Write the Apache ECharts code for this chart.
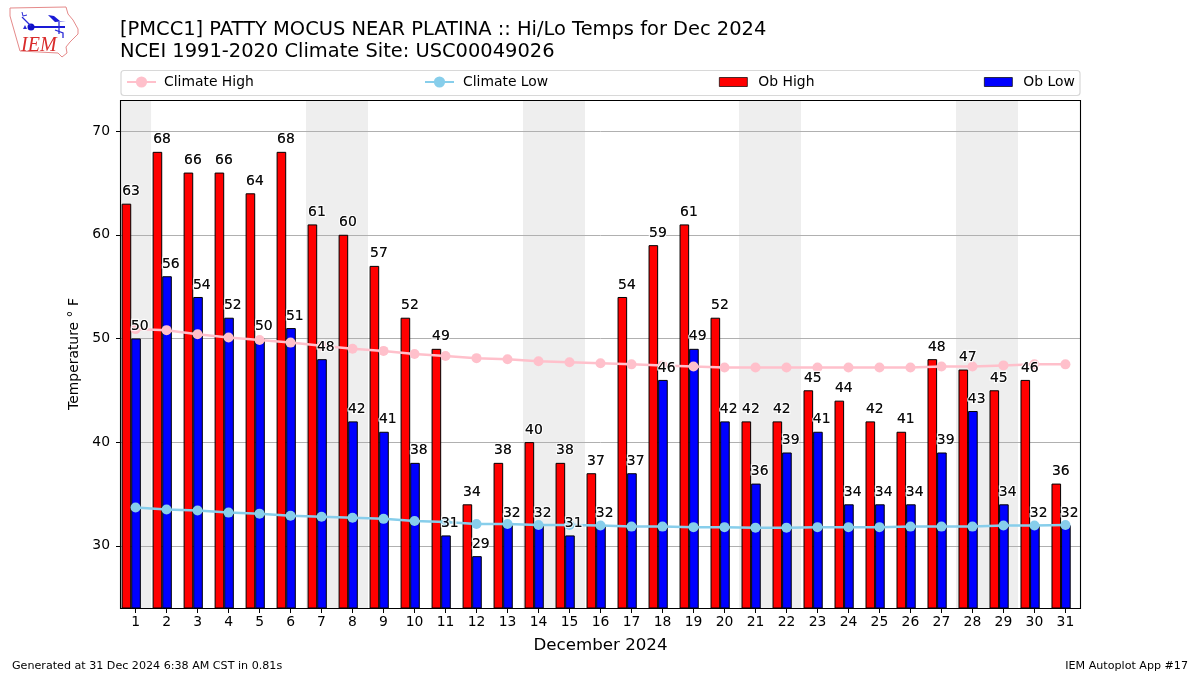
<!DOCTYPE html>
<html><head><meta charset="utf-8">
<style>html,body{margin:0;padding:0;background:#fff}#c{width:1200px;height:675px}</style>
<script src="https://cdn.jsdelivr.net/npm/echarts@6/dist/echarts.min.js"></script>
</head><body><div id="c"></div>
<script>
const days=[1,2,3,4,5,6,7,8,9,10,11,12,13,14,15,16,17,18,19,20,21,22,23,24,25,26,27,28,29,30,31];
const obHigh=[63,68,66,66,64,68,61,60,57,52,49,34,38,40,38,37,54,59,61,52,42,42,45,44,42,41,48,47,45,46,36];
const obLow=[50,56,54,52,50,51,48,42,41,38,31,29,32,32,31,32,37,46,49,42,36,39,41,34,34,34,39,43,34,32,32];
const climateHigh=[50.9,50.8,50.4,50.1,49.85,49.6,49.3,49.0,48.8,48.5,48.3,48.1,48.0,47.8,47.7,47.6,47.5,47.4,47.3,47.2,47.2,47.2,47.2,47.2,47.2,47.2,47.3,47.3,47.4,47.5,47.5];
const climateLow=[33.7,33.5,33.4,33.2,33.1,32.9,32.8,32.7,32.6,32.4,32.3,32.1,32.1,32.0,32.0,31.95,31.85,31.85,31.8,31.8,31.75,31.75,31.8,31.8,31.8,31.85,31.85,31.85,31.95,31.95,32.0];
const yTicks=[30,40,50,60,70];
const weekends=[[0.53,1.5],[6.5,8.5],[13.5,15.5],[20.47,22.47],[27.47,29.47]];
const titleText='[PMCC1] PATTY MOCUS NEAR PLATINA :: Hi/Lo Temps for Dec 2024\nNCEI 1991-2020 Climate Site: USC00049026';
const xTitle='December 2024', yTitle='Temperature ° F';
const footLeft='Generated at 31 Dec 2024 6:38 AM CST in 0.81s', footRight='IEM Autoplot App #17';

const FONT='DejaVu Sans';
const chart=echarts.init(document.getElementById('c'),null,{renderer:'canvas'});
const pair=(vals,shift)=>vals.map((v,i)=>[days[i]+shift,v]);
const GROUP=-0.14;
const valueLabels=(name,vals,dx,halo)=>({
  type:'scatter',name,data:pair(vals,0),symbolSize:1,z:halo?20:21,silent:true,
  itemStyle:{color:'rgba(0,0,0,0)'},
  label:{show:true,position:'top',distance:0,offset:[dx,-4.5],formatter:p=>String(p.value[1]),
    color:'#000',fontFamily:FONT,fontSize:13.9,textBorderColor:halo?'#fff':'transparent',textBorderWidth:halo?2.5:0}
});
const legend=(name,left,h,w,pad,extra)=>Object.assign({show:true,data:[name],left,top:75,itemWidth:w,itemHeight:h,
  textStyle:{fontFamily:FONT,fontSize:13.9,color:'#000',padding:[0,0,0,pad]},padding:0,selectedMode:false},extra||{});
const barIcon={icon:'rect',itemStyle:{borderWidth:0.7}};
chart.setOption({
  animation:false,backgroundColor:'#fff',
  title:[
    {text:titleText,left:120,top:19,padding:0,textStyle:{fontFamily:FONT,fontSize:19.44,fontWeight:'normal',color:'#000',lineHeight:22}},
    {text:footLeft,left:12,top:661,padding:0,textStyle:{fontFamily:FONT,fontSize:11.11,fontWeight:'normal',color:'#000'}},
    {text:footRight,right:12,top:661,padding:0,textStyle:{fontFamily:FONT,fontSize:11.11,fontWeight:'normal',color:'#000'}}
  ],
  legend:[legend('Climate High',126,14,29,3),legend('Climate Low',424,14,29,4),
    legend('Ob High',719,9,28,6,barIcon),legend('Ob Low',984,9,28,6,barIcon)],
  grid:{left:121,top:100,width:959,height:508,show:false,containLabel:false},
  xAxis:{type:'value',min:0.53,max:31.47,
    name:xTitle,nameLocation:'middle',nameGap:29,nameTextStyle:{fontFamily:FONT,fontSize:16.67,color:'#000'},
    axisLine:{show:false},splitLine:{show:false},
    axisTick:{show:true,length:5,lineStyle:{color:'#000'},customValues:days},
    axisLabel:{show:true,margin:7,fontFamily:FONT,fontSize:13.9,color:'#000',customValues:days,formatter:v=>String(v)}},
  yAxis:{type:'value',min:24,max:73,
    name:yTitle,nameLocation:'middle',nameGap:35,nameTextStyle:{fontFamily:FONT,fontSize:13.9,color:'#000'},
    axisLine:{show:false},
    splitLine:{show:false},
    axisTick:{show:true,length:5,lineStyle:{color:'#000'},customValues:yTicks},
    axisLabel:{show:true,margin:11,fontFamily:FONT,fontSize:13.9,color:'#000',customValues:yTicks,formatter:v=>String(v)}},
  series:[
    {type:'line',name:'_shade',data:[],z:0,silent:true,
     markArea:{silent:true,z:0,itemStyle:{color:'#eeeeee',borderWidth:0},data:weekends.map(w=>[{xAxis:w[0]},{xAxis:w[1]}])},
     markLine:{silent:true,z:1,symbol:'none',label:{show:false},lineStyle:{color:'#b0b0b0',width:1,type:'solid'},data:yTicks.map(v=>({yAxis:v}))}},
    {type:'bar',name:'Ob High',data:pair(obHigh,GROUP),barWidth:9.6,barGap:0,z:3,itemStyle:{color:'#ff0000',borderColor:'#000',borderWidth:1}},
    {type:'bar',name:'Ob Low',data:pair(obLow,GROUP),barWidth:9.6,barGap:0,z:3,itemStyle:{color:'#0000ff',borderColor:'#000',borderWidth:1}},
    {type:'line',name:'Climate High',data:pair(climateHigh,0),symbol:'circle',symbolSize:10,z:5,showSymbol:true,
     lineStyle:{color:'#ffc0cb',width:2.5},itemStyle:{color:'#ffc0cb'}},
    {type:'line',name:'Climate Low',data:pair(climateLow,0),symbol:'circle',symbolSize:10,z:5,showSymbol:true,
     lineStyle:{color:'#87ceeb',width:2.5},itemStyle:{color:'#87ceeb'}},
    valueLabels('_hi',obHigh,-4.6,true),
    valueLabels('_lo',obLow,4.2,true),
    valueLabels('_hi2',obHigh,-4.6,false),
    valueLabels('_lo2',obLow,4.2,false)
  ],
  graphic:[
    {type:'rect',shape:{x:120.5,y:100.5,width:960,height:508},style:{fill:'none',stroke:'#000',lineWidth:1.1},z:10,silent:true},
    {type:'rect',shape:{x:121,y:70.5,width:959,height:25,r:3},style:{fill:'none',stroke:'#d8d8d8',lineWidth:1.2},z:1,silent:true},
    {type:'polygon',shape:{points:[[10,8],[66,7],[68,14],[73,20],[78,29],[78,34],[70,42],[66,47],[67,53],[62,57],[58,53],[20,51],[18,44],[14,30],[10,16]]},style:{fill:'#fff',stroke:'#e58a8a',lineWidth:1},z:1,silent:true},
    {type:'text',x:21,y:36,style:{text:'IEM',fill:'#d92b2b',font:'italic 20px "Liberation Serif"'},z:2,silent:true},
    {type:'polyline',shape:{points:[[31,27],[65,27]]},style:{stroke:'#1a1ad6',lineWidth:2,fill:'none'},z:2,silent:true},
    {type:'circle',shape:{cx:31,cy:27,r:3.5},style:{fill:'#1010c8'},z:2,silent:true},
    {type:'polyline',shape:{points:[[22,17],[31,26]]},style:{stroke:'#2a2ad6',lineWidth:1.3,fill:'none'},z:2,silent:true},
    {type:'polyline',shape:{points:[[22,12],[23,16],[27,15]]},style:{stroke:'#2a2ad6',lineWidth:1,fill:'none'},z:2,silent:true},
    {type:'polygon',shape:{points:[[48,15],[54,16],[60,21],[66,21],[55,22]]},style:{fill:'#1a1ad6'},z:2,silent:true},
    {type:'polyline',shape:{points:[[59,22],[59,34]]},style:{stroke:'#2a2ad6',lineWidth:1.3,fill:'none'},z:2,silent:true},
    {type:'polyline',shape:{points:[[55,30],[63,33],[63,38]]},style:{stroke:'#2a2ad6',lineWidth:1.3,fill:'none'},z:2,silent:true},
    {type:'polygon',shape:{points:[[23,29],[27,29],[25,25]]},style:{fill:'#2a2ad6'},z:2,silent:true}
  ]
});
</script></body></html>
